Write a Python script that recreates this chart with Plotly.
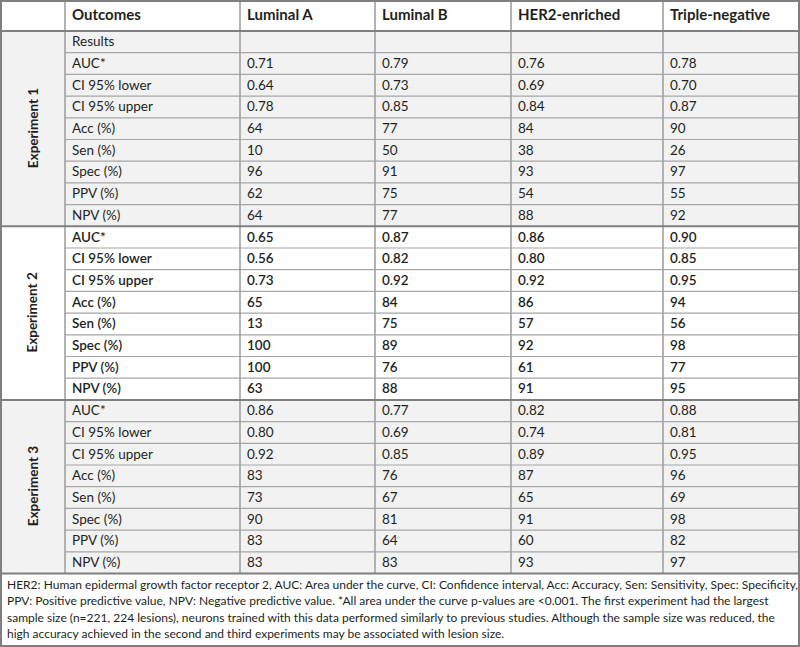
import plotly.graph_objects as go

# ---- table data ----
subtypes = ["Luminal A", "Luminal B", "HER2-enriched", "Triple-negative"]
outcomes = ["AUC*", "CI 95% lower", "CI 95% upper", "Acc (%)",
            "Sen (%)", "Spec (%)", "PPV (%)", "NPV (%)"]
experiments = ["Experiment 1", "Experiment 2", "Experiment 3"]

# rows follow `outcomes`, columns follow `subtypes`
exp1 = [[0.71, 0.79, 0.76, 0.78],
        [0.64, 0.73, 0.69, 0.70],
        [0.78, 0.85, 0.84, 0.87],
        [64, 77, 84, 90],
        [10, 50, 38, 26],
        [96, 91, 93, 97],
        [62, 75, 54, 55],
        [64, 77, 88, 92]]
exp2 = [[0.65, 0.87, 0.86, 0.90],
        [0.56, 0.82, 0.80, 0.85],
        [0.73, 0.92, 0.92, 0.95],
        [65, 84, 86, 94],
        [13, 75, 57, 56],
        [100, 89, 92, 98],
        [100, 76, 61, 77],
        [63, 88, 91, 95]]
exp3 = [[0.86, 0.77, 0.82, 0.88],
        [0.80, 0.69, 0.74, 0.81],
        [0.92, 0.85, 0.89, 0.95],
        [83, 76, 87, 96],
        [73, 67, 65, 69],
        [90, 81, 91, 98],
        [83, 64, 60, 82],
        [83, 83, 93, 97]]

footnote_lines = [
    "HER2: Human epidermal growth factor receptor 2, AUC: Area under the curve, CI: Confidence interval, Acc: Accuracy, Sen: Sensitivity, Spec: Specificity,",
    "PPV: Positive predictive value, NPV: Negative predictive value. *All area under the curve p-values are <0.001. The first experiment had the largest",
    "sample size (n=221, 224 lesions), neurons trained with this data performed similarly to previous studies. Although the sample size was reduced, the",
    "high accuracy achieved in the second and third experiments may be associated with lesion size.",
]

# ---- layout constants (pixel space of the 800x647 page) ----
W, H = 800, 647
col_edges = [0, 65, 240, 375, 511, 663, 800]
header_bottom = 31
row_h = 21.7
pad = 7
text_dy = 1
font = "Lato"
ink = "#231f20"
fills = ["#f2f2f2", "#ffffff", "#f2f2f2"]
weights = [400, 600, 400]

groups = [
    (["Results"] + outcomes, [[""] * 4] + exp1),
    (outcomes, exp2),
    (outcomes, exp3),
]


def fmt(v, label):
    if v == "":
        return ""
    return f"{v:.2f}" if label.startswith(("AUC", "CI")) else f"{v:d}"


fig = go.Figure()
shapes = []
annotations = []

# header
header_labels = ["", "Outcomes"] + subtypes
fig.add_trace(go.Scatter(
    x=[col_edges[i] + pad for i in range(1, 6)],
    y=[header_bottom / 2 + text_dy] * 5,
    text=header_labels[1:], mode="text", textposition="middle right",
    textfont=dict(family=font, size=15, color=ink, weight=700),
    hoverinfo="skip", cliponaxis=False, showlegend=False))

y0 = header_bottom
group_bounds = []
for g, (labels, rows) in enumerate(groups):
    top = y0
    bottom = top + row_h * len(labels)
    group_bounds.append((top, bottom))
    shapes.append(dict(type="rect", xref="x", yref="y", x0=0, x1=W, y0=top, y1=bottom,
                       fillcolor=fills[g], line=dict(width=0), layer="below"))
    xs, ys, ts = [], [], []
    for r, (lab, vals) in enumerate(zip(labels, rows)):
        yc = top + row_h * (r + 0.5) + text_dy
        xs.append(col_edges[1] + pad)
        ys.append(yc)
        ts.append(lab)
        for c, v in enumerate(vals):
            xs.append(col_edges[c + 2] + pad)
            ys.append(yc)
            ts.append(fmt(v, lab))
        if r > 0:
            shapes.append(dict(type="line", xref="x", yref="y", x0=col_edges[1], x1=W,
                               y0=top + row_h * r, y1=top + row_h * r,
                               line=dict(color="#a6a6a6", width=1.2)))
    fig.add_trace(go.Scatter(
        x=xs, y=ys, text=ts, mode="text", textposition="middle right",
        textfont=dict(family=font, size=13.5, color=ink, weight=weights[g]),
        hoverinfo="skip", cliponaxis=False, showlegend=False))
    annotations.append(dict(x=col_edges[1] / 2, y=(top + bottom) / 2, xref="x", yref="y",
                            text=f"<b>{experiments[g]}</b>", textangle=-90, showarrow=False,
                            font=dict(family=font, size=13.5, color=ink)))
    y0 = bottom

table_bottom = y0

# vertical column lines
for xe in col_edges[1:-1]:
    shapes.append(dict(type="line", xref="x", yref="y", x0=xe, x1=xe, y0=0, y1=table_bottom,
                       line=dict(color="#a0a0a0", width=1.6)))

# header and group separators
for yy in [header_bottom] + [b for _, b in group_bounds[:-1]]:
    shapes.append(dict(type="line", xref="x", yref="y", x0=0, x1=W, y0=yy, y1=yy,
                       line=dict(color="#7f7f7f", width=2)))
shapes.append(dict(type="line", xref="x", yref="y", x0=0, x1=W, y0=table_bottom, y1=table_bottom,
                   line=dict(color="#7f7f7f", width=2)))

# outer frame
shapes.append(dict(type="rect", xref="x", yref="y", x0=1, x1=W - 1, y0=1, y1=H - 1,
                   line=dict(color="#7f7f7f", width=2), fillcolor="rgba(0,0,0,0)"))

# footnote
for i, line in enumerate(footnote_lines):
    annotations.append(dict(x=5, y=table_bottom + 10.5 + i * 16.6, xref="x", yref="y",
                            text=line, showarrow=False, xanchor="left", yanchor="middle",
                            font=dict(family=font, size=12, color=ink)))

fig.update_layout(
    width=W, height=H, margin=dict(l=0, r=0, t=0, b=0),
    paper_bgcolor="white", plot_bgcolor="white",
    xaxis=dict(range=[0, W], visible=False, fixedrange=True),
    yaxis=dict(range=[H, 0], visible=False, fixedrange=True),
    shapes=shapes, annotations=annotations,
)

fig.write_html("out.html", config={"displayModeBar": False},
               post_script="document.body.style.margin='0';document.body.style.overflow='hidden';")
